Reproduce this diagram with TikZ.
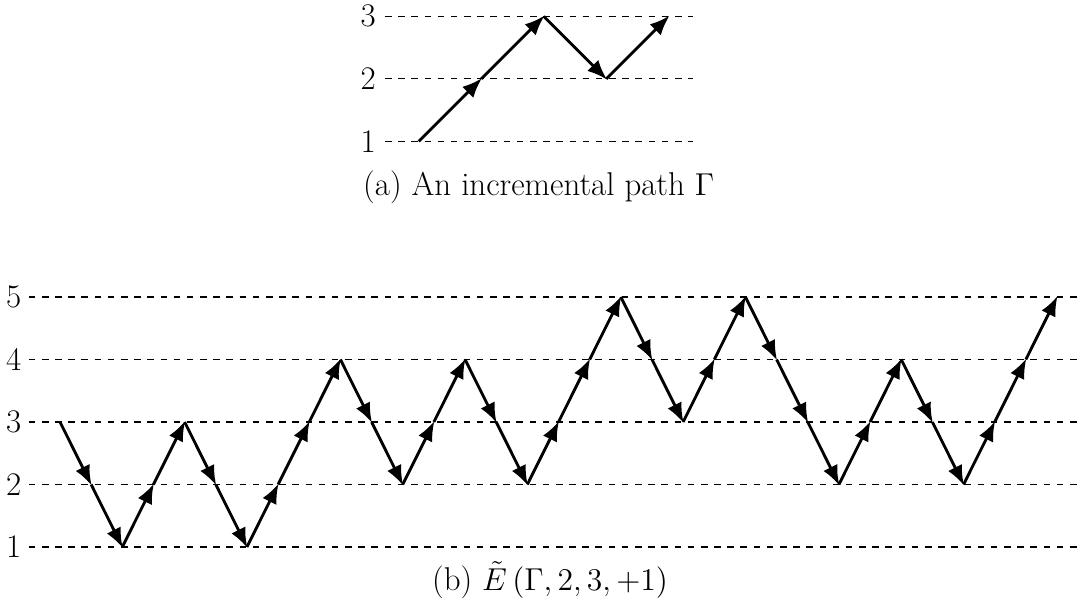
\documentclass[tikz,border=0pt]{standalone}
\usetikzlibrary{arrows.meta}
\begin{document}
\begin{tikzpicture}[
  arr/.style={line width=1.3pt, -{Latex[length=3.2mm,width=2.5mm]}, shorten >=-0.5pt},
  lvl/.style={dashed, line width=0.5pt},
  lab/.style={inner sep=0pt, font=\fontsize{15}{17}\selectfont},
  captext/.style={inner sep=0pt, font=\fontsize{15}{17}\selectfont}
]
\useasboundingbox (0,0) rectangle (17.472,9.712);
% ---------- top panel ----------
\foreach \k/\y in {1/7.45,2/8.45,3/9.45}{
  \node[lab] (tl\k) at (5.89,\y) {\k};
  \coordinate (ts\k) at (6.16,\y);
  \coordinate (te\k) at (11.09,\y);
  \draw[lvl] (ts\k) -- (te\k);
}
\foreach \i/\l in {0/1,1/2,2/3,3/2,4/3}{
  \coordinate (t\i) at ({6.70+\i}, {7.45+(\l-1)});
}
\foreach \i [evaluate=\i as \j using int(\i+1)] in {0,...,3}{
  \draw[arr] (t\i) -- (t\j);
}
\node[captext] (capa) at (8.62,6.71) {(a) An incremental path $\Gamma$};
% ---------- bottom panel ----------
\foreach \k in {1,...,5}{
  \node[lab] (bl\k) at (0.22,{0.96+(\k-1)}) {\k};
  \coordinate (bs\k) at (0.46,{0.96+(\k-1)});
  \coordinate (be\k) at (17.28,{0.96+(\k-1)});
  \draw[lvl] (bs\k) -- (be\k);
}
\foreach \l [count=\i from 0] in {3,2,1,2,3,2,1,2,3,4,3,2,3,4,3,2,3,4,5,4,3,4,5,4,3,2,3,4,3,2,3,4,5}{
  \coordinate (b\i) at ({0.96+0.4985*\i}, {0.96+(\l-1)});
}
\foreach \i [evaluate=\i as \j using int(\i+1)] in {0,...,31}{
  \draw[arr] (b\i) -- (b\j);
}
\node[captext] (capb) at (8.8,0.43) {(b)~$\tilde{E}\,(\Gamma, 2, 3, +1)$};
\end{tikzpicture}
\end{document}
